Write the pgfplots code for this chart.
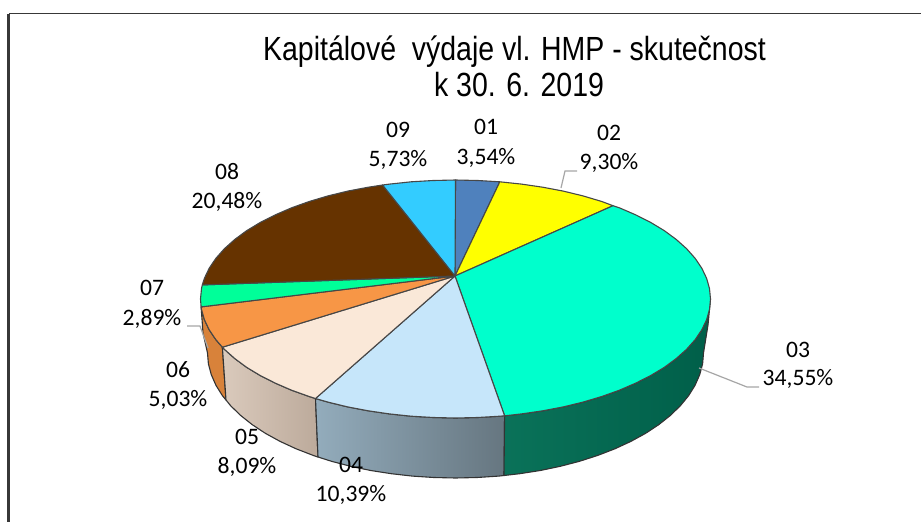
\documentclass[border=0pt]{standalone}
\usepackage{fontspec}
\usepackage{xcolor}
\usepackage{pgfplots}
\pgfplotsset{compat=1.18}
\setmainfont{Carlito}
\newfontfamily\titlefont[FakeStretch=0.85]{Liberation Sans}
\definecolor{c01}{HTML}{4F81BD}
\definecolor{c02}{HTML}{FFFF00}
\definecolor{c03}{HTML}{00FFCC}
\definecolor{c04}{HTML}{C6E6FA}
\definecolor{c05}{HTML}{FAE8D8}
\definecolor{c06}{HTML}{F79646}
\definecolor{c07}{HTML}{00FF99}
\definecolor{c08}{HTML}{663300}
\definecolor{c09}{HTML}{33CCFF}
\definecolor{leader}{HTML}{A6A6A6}
\tikzset{
    wedge/.style={draw=black!72, line width=1.1pt, line join=round},
    side/.style={draw=black!80, line width=1.1pt, line join=round},
    lab/.style={font=\fontsize{23.6}{27}\selectfont, text=black, inner sep=0pt, anchor=center},
    ttl/.style={font=\titlefont\fontsize{33.5}{38}\selectfont, text=black, inner sep=0pt, anchor=center},
}
\begin{document}
\begin{tikzpicture}
\begin{axis}[
    width=921pt, height=522pt, scale only axis,
    xmin=0, xmax=921, ymin=0, ymax=522,
    y dir=reverse, hide axis, clip=false,
]
% frame
\addplot[draw=black!78, line width=1.6pt] coordinates {(921,13.5) (8.5,13.5)};
\addplot[draw=black!78, line width=2.2pt] coordinates {(8.5,13.5) (8.5,522)};

% side walls
\addplot[side, fill={rgb,255:red,216;green,130;blue,58}] coordinates {(222.4,347.2) (215.9,339.7) (209.2,329.8) (204.4,319.7) (201.5,309.4) (201.1,306.9) (203,333) (207.5,353) (208.4,363.9) (211.3,374.7) (216,385.4) (222.5,395.8) (226,400)} -- cycle;
\addplot[side, left color={rgb,255:red,218;green,202;blue,188}, right color={rgb,255:red,188;green,170;blue,155}] coordinates {(315.5,398.5) (309.2,396.5) (291.6,390.2) (275.2,383.1) (260.2,375.5) (246.6,367.3) (234.7,358.5) (224.4,349.3) (222.4,347.2) (226,400) (230.7,405.8) (240.7,415.5) (252.3,424.7) (265.5,433.4) (280.1,441.4) (296.1,448.8) (313.2,455.4) (318,457)} -- cycle;
\addplot[side, left color={rgb,255:red,147;green,172;blue,188}, right color={rgb,255:red,102;green,118;blue,128}] coordinates {(504.6,415.8) (499.8,416.2) (477.7,417.5) (455.5,418) (433.3,417.5) (411.2,416.2) (389.5,413.9) (368.3,410.8) (347.7,406.9) (328,402.1) (315.5,398.5) (318,457) (331.5,461.3) (350.7,466.3) (370.7,470.5) (391.3,473.7) (412.4,476.1) (433.9,477.5) (455.5,478) (477.1,477.5) (498.6,476.1) (504,475.5)} -- cycle;
\addplot[side, left color={rgb,255:red,10;green,114;blue,89}, middle color={rgb,255:red,0;green,95;blue,73}, right color={rgb,255:red,0;green,95;blue,73}] coordinates {(710.5,299) (709.5,309.4) (706.6,319.7) (701.8,329.8) (695.1,339.7) (686.6,349.3) (676.3,358.5) (664.4,367.3) (650.8,375.5) (635.8,383.1) (619.4,390.2) (601.8,396.5) (583,402.1) (563.3,406.9) (542.7,410.8) (521.5,413.9) (504.6,415.8) (504,475.5) (519.7,473.7) (540.3,470.5) (560.3,466.3) (579.5,461.3) (597.8,455.4) (614.9,448.8) (630.9,441.4) (645.5,433.4) (658.7,424.7) (670.3,415.5) (680.3,405.8) (688.5,395.8) (695,385.4) (699.7,374.7) (702.6,363.9) (703.5,353) (708,325)} -- cycle;

% top face wedges
\addplot[wedge, fill=c01] coordinates {(455,276) (455.5,180) (477.7,180.5) (499.8,181.8)} -- cycle;
\addplot[wedge, fill=c02] coordinates {(455,276) (499.8,181.8) (521.5,184.1) (542.7,187.2) (563.3,191.1) (583,195.9) (601.8,201.5) (613,205.7)} -- cycle;
\addplot[wedge, fill=c03] coordinates {(455,276) (613,205.7) (619.4,207.8) (635.8,214.9) (650.8,222.5) (664.4,230.7) (676.3,239.5) (686.6,248.7) (695.1,258.3) (701.8,268.2) (706.6,278.3) (709.5,288.6) (710.5,299) (709.5,309.4) (706.6,319.7) (701.8,329.8) (695.1,339.7) (686.6,349.3) (676.3,358.5) (664.4,367.3) (650.8,375.5) (635.8,383.1) (619.4,390.2) (601.8,396.5) (583,402.1) (563.3,406.9) (542.7,410.8) (521.5,413.9) (504.6,415.8)} -- cycle;
\addplot[wedge, fill=c04] coordinates {(455,276) (504.6,415.8) (499.8,416.2) (477.7,417.5) (455.5,418) (433.3,417.5) (411.2,416.2) (389.5,413.9) (368.3,410.8) (347.7,406.9) (328,402.1) (315.5,398.5)} -- cycle;
\addplot[wedge, fill=c05] coordinates {(455,276) (315.5,398.5) (309.2,396.5) (291.6,390.2) (275.2,383.1) (260.2,375.5) (246.6,367.3) (234.7,358.5) (224.4,349.3) (222.4,347.2)} -- cycle;
\addplot[wedge, fill=c06] coordinates {(455,276) (222.4,347.2) (215.9,339.7) (209.2,329.8) (204.4,319.7) (201.5,309.4) (201.1,306.9)} -- cycle;
\addplot[wedge, fill=c07] coordinates {(455,276) (201.1,306.9) (200.5,299) (201.5,288.6) (202.3,284.9)} -- cycle;
\addplot[wedge, fill=c08] coordinates {(455,276) (202.3,284.9) (204.4,278.3) (209.2,268.2) (215.9,258.3) (224.4,248.7) (234.7,239.5) (246.6,230.7) (260.2,222.5) (275.2,214.9) (291.6,207.8) (309.2,201.5) (328,195.9) (347.7,191.1) (368.3,187.2) (382.6,185)} -- cycle;
\addplot[wedge, fill=c09] coordinates {(455,276) (382.6,185) (389.5,184.1) (411.2,181.8) (433.3,180.5) (455.5,180)} -- cycle;

% leader lines
\addplot[draw=leader, line width=1.2pt] coordinates {(561,188) (565,171) (577,171)};
\addplot[draw=leader, line width=1.2pt] coordinates {(699,368) (747,387) (759,387)};
\addplot[draw=leader, line width=1.2pt] coordinates {(208,348) (200,326) (187,326)};

% title
\node[ttl] at (axis cs:514.5,52) {Kapitálové\ \ výdaje vl. HMP - skutečnost};
\node[ttl] at (axis cs:519,85) {k 30. 6. 2019};

% data labels
\node[lab] at (axis cs:486,127) {01};
\node[lab] at (axis cs:486,158) {3,54\%};
\node[lab] at (axis cs:609,133) {02};
\node[lab] at (axis cs:609,163) {9,30\%};
\node[lab] at (axis cs:798,350) {03};
\node[lab] at (axis cs:798,379) {34,55\%};
\node[lab] at (axis cs:351,465) {04};
\node[lab] at (axis cs:351,495) {10,39\%};
\node[lab] at (axis cs:247,437) {05};
\node[lab] at (axis cs:247,467) {8,09\%};
\node[lab] at (axis cs:178,370) {06};
\node[lab] at (axis cs:178,400) {5,03\%};
\node[lab] at (axis cs:152,288) {07};
\node[lab] at (axis cs:152,319) {2,89\%};
\node[lab] at (axis cs:227,172) {08};
\node[lab] at (axis cs:227,202) {20,48\%};
\node[lab] at (axis cs:398,130) {09};
\node[lab] at (axis cs:398,160) {5,73\%};
\end{axis}
\pgfresetboundingbox
\path (0,0) rectangle (921pt,522pt);
\end{tikzpicture}
\end{document}
